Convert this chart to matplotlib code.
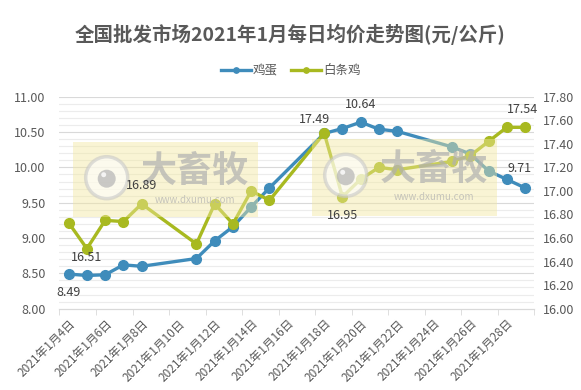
import numpy as np
import matplotlib.pyplot as plt
from matplotlib.patches import Rectangle, Circle
from matplotlib.transforms import offset_copy

plt.rcParams['font.family'] = ['Noto Sans CJK SC', 'DejaVu Sans']

# trading days in Jan 2021 (weekends skipped)
days = [4, 5, 6, 7, 8, 11, 12, 13, 14, 15, 18, 19, 20, 21, 22, 25, 26, 27, 28, 29]
egg = [8.49, 8.47, 8.48, 8.62, 8.60, 8.71, 8.96, 9.16, 9.44, 9.71,
       10.48, 10.55, 10.64, 10.54, 10.51, 10.29, 10.19, 9.95, 9.83, 9.71]
chicken = [16.73, 16.51, 16.75, 16.74, 16.89, 16.55, 16.89, 16.72, 17.00, 16.92,
           17.49, 16.95, 17.10, 17.20, 17.18, 17.25, 17.30, 17.42, 17.54, 17.54]
label_days = list(range(4, 29, 2))
tick_labels = ['2021年1月%d日' % d for d in label_days]

blue = '#3f8cbb'
green = '#a8b920'
gray = '#595959'

fig = plt.figure(figsize=(5.81, 3.9), dpi=100)
ax = fig.add_axes([0.1024, 0.2085, 0.817, 0.5435])
ax2 = ax.twinx()

ax.plot(days, egg, color=blue, lw=2.4, marker='o', ms=7, zorder=3, label='鸡蛋')
ax2.plot(days, chicken, color=green, lw=2.4, marker='o', ms=7, zorder=3, label='白条鸡')

ax.set_xlim(3.5, 29.5)
ax.set_ylim(8, 11)
ax2.set_ylim(16, 17.8)
ax.set_yticks(np.arange(8, 11.01, 0.5))
ax.set_yticklabels(['%.2f' % v for v in np.arange(8, 11.01, 0.5)])
ax2.set_yticks(np.arange(16, 17.81, 0.2))
ax2.set_yticklabels(['%.2f' % v for v in np.arange(16, 17.81, 0.2)])

# gridlines every 0.1 on left axis
for v in np.arange(8.1, 11.01, 0.1):
    major = abs(v * 2 - round(v * 2)) < 1e-6
    ax.axhline(v, color='#d9d9d9' if major else '#ececec', lw=0.8, zorder=0)

ax.set_xticks(label_days)
ax.set_xticklabels(tick_labels, rotation=45, ha='right', rotation_mode='anchor')
ax.set_xticks(np.arange(3.5, 29.6, 2), minor=True)
ax.tick_params(axis='x', which='major', length=0, pad=6, labelsize=8.5, colors=gray)
ax.tick_params(axis='x', which='minor', length=4, color='#d9d9d9')
ax.tick_params(axis='y', length=0, labelsize=9, colors=gray, pad=10)
ax2.tick_params(axis='y', length=0, labelsize=9, colors=gray, pad=6)

for a in (ax, ax2):
    for s in ('top', 'left', 'right'):
        a.spines[s].set_visible(False)
    a.spines['bottom'].set_color('#d9d9d9')

fig.text(0.5, 0.912, '全国批发市场2021年1月每日均价走势图(元/公斤)', ha='center', va='center',
         fontsize=14, fontweight='bold', color=gray)
h1, l1 = ax.get_legend_handles_labels()
h2, l2 = ax2.get_legend_handles_labels()
fig.legend(h1 + h2, l1 + l2, loc='center', bbox_to_anchor=(0.5, 0.818), ncol=2, frameon=False,
           fontsize=9, labelcolor=gray, handlelength=2.4, handletextpad=0.2, columnspacing=1.0,
           markerscale=0.55)

# watermark overlays
W, H = 581, 390
wm = fig.add_axes([0, 0, 1, 1], zorder=10)
wm.set_xlim(0, W)
wm.set_ylim(H, 0)
wm.axis('off')
for x0, y0, x1, y1 in [(72.7, 141.7, 258.3, 216.7), (311.7, 139.3, 497.3, 216.0)]:
    wm.add_patch(Rectangle((x0, y0), x1 - x0, y1 - y0, facecolor='#f2e8a0', alpha=0.45, lw=0))
    cx, cy = x0 + 34, y0 + 36
    wm.add_patch(Circle((cx, cy), 21, facecolor='#ffffff', edgecolor='#c8c8c8', lw=2.5, alpha=0.6))
    wm.add_patch(Circle((cx, cy + 1), 9, facecolor='#b4b4b4', lw=0, alpha=0.7))
    wm.add_patch(Circle((cx - 3, cy - 3), 2.5, facecolor='#ffffff', lw=0, alpha=0.8))
    wm.text(x0 + 122, y0 + 30, '大畜牧', fontsize=26, fontweight='bold', color='#b0b0b0',
            alpha=0.7, ha='center', va='center')
    wm.text(x0 + 122, y0 + 58, 'www.dxumu.com', fontsize=7, color='#b0b0b0', alpha=0.7,
            ha='center', va='center')

# data labels on top of the watermark (offsets in pixels)
def point_label(a, x, y, s, dx, dy):
    tr = offset_copy(a.transData, fig=fig, x=dx, y=dy, units='dots')
    fig.text(x, y, s, transform=tr, fontsize=9, color='#404040', ha='center', va='center', zorder=20)

point_label(ax, days[0], egg[0], '8.49', 0, -18)
point_label(ax2, days[1], chicken[1], '16.51', 0, -9)
point_label(ax2, days[4], chicken[4], '16.89', 0, 18)
point_label(ax2, days[10], chicken[10], '17.49', -10, 14)
point_label(ax2, days[11], chicken[11], '16.95', 0, -19)
point_label(ax, days[12], egg[12], '10.64', 0, 18)
point_label(ax2, days[19], chicken[19], '17.54', -2, 18)
point_label(ax, days[19], egg[19], '9.71', -5, 19)

fig.savefig('out.png', dpi=100)
